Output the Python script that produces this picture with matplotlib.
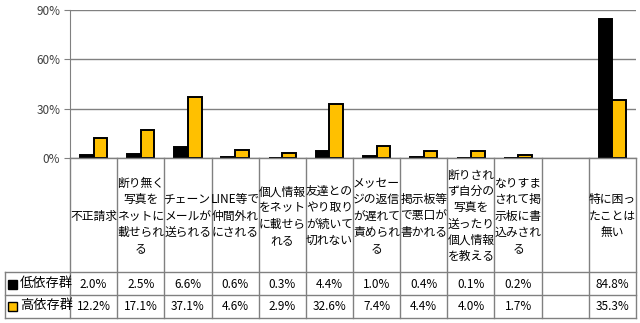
import matplotlib
matplotlib.use("Agg")
import matplotlib.pyplot as plt
from matplotlib.patches import Rectangle
from matplotlib.transforms import blended_transform_factory

plt.rcParams['font.family'] = ['Noto Sans CJK JP', 'DejaVu Sans']

# data
categories = [
    "不正請求",
    "断り無く\n写真を\nネットに\n載せられ\nる",
    "チェーン\nメールが\n送られる",
    "LINE等で\n仲間外れ\nにされる",
    "個人情報\nをネット\nに載せら\nれる",
    "友達との\nやり取り\nが続いて\n切れない",
    "メッセー\nジの返信\nが遅れて\n責められ\nる",
    "掲示板等\nで悪口が\n書かれる",
    "断りされ\nず自分の\n写真を\n送ったり\n個人情報\nを教える",
    "なりすま\nされて掲\n示板に書\n込みされ\nる",
    "",
    "特に困っ\nたことは\n無い",
]
series_names = ["低依存群", "高依存群"]
low_dep = [2.0, 2.5, 6.6, 0.6, 0.3, 4.4, 1.0, 0.4, 0.1, 0.2, None, 84.8]
high_dep = [12.2, 17.1, 37.1, 4.6, 2.9, 32.6, 7.4, 4.4, 4.0, 1.7, None, 35.3]
colors = ["#000000", "#FFC000"]

W, H = 640, 323
fig = plt.figure(figsize=(W / 100, H / 100), dpi=100)
x0, x1, y0, y1 = 70, 636, 158, 10
ax = fig.add_axes([x0 / W, 1 - y0 / H, (x1 - x0) / W, (y0 - y1) / H])

n = len(categories)
xs = list(range(n))
bw = 0.29
for i in xs:
    if low_dep[i] is None:
        continue
    ax.bar(i - bw / 2, low_dep[i], bw, color=colors[0], edgecolor="black", linewidth=1.4)
    ax.bar(i + bw / 2, high_dep[i], bw, color=colors[1], edgecolor="black", linewidth=1.4)

ax.set_xlim(-0.5, n - 0.5)
ax.set_ylim(0, 90)
ax.set_yticks([0, 30, 60, 90])
ax.set_yticklabels(["0%", "30%", "60%", "90%"], fontsize=8.5, color="#404040")
ax.tick_params(axis="y", length=4, color="#808080", pad=3)
ax.set_xticks([])
ax.grid(axis="y", color="#808080", linewidth=1)
ax.set_axisbelow(True)
for s in ["top", "right", "bottom"]:
    ax.spines[s].set_visible(False)
ax.spines["left"].set_color("#808080")

# table beneath the plot
tr = blended_transform_factory(ax.transData, ax.transAxes)
def ay(py):
    return (y0 - py) / (y0 - y1)
def dx(px):
    return -0.5 + (px - x0) / ((x1 - x0) / n)

line_kw = dict(color="#808080", linewidth=1, transform=tr, clip_on=False)
ax.plot([-0.5, n - 0.5], [0, 0], **line_kw)
for b in range(n + 1):
    ax.plot([b - 0.5, b - 0.5], [ay(158), ay(318)], **line_kw)
ax.plot([dx(5), dx(5)], [ay(272), ay(318)], **line_kw)
for py in [272, 295, 318]:
    ax.plot([dx(5), n - 0.5], [ay(py), ay(py)], **line_kw)

for i, lab in enumerate(categories):
    ax.text(i, ay(216), lab, ha="center", va="center", fontsize=8.5,
            linespacing=1.32, transform=tr, clip_on=False)
    for vals, py in [(low_dep, 284), (high_dep, 306)]:
        if vals[i] is not None:
            ax.text(i, ay(py), f"{vals[i]:.1f}%", ha="center", va="center",
                    fontsize=8.5, transform=tr, clip_on=False)

for k, py in enumerate([284, 306]):
    fig.patches.append(Rectangle((8 / W, 1 - (py + 5) / H), 9 / W, 9 / H,
                                 facecolor=colors[k], edgecolor="black", linewidth=1,
                                 transform=fig.transFigure))
    fig.text(20 / W, 1 - py / H, series_names[k], ha="left", va="center", fontsize=9.5)

fig.savefig("out.png", dpi=100)
